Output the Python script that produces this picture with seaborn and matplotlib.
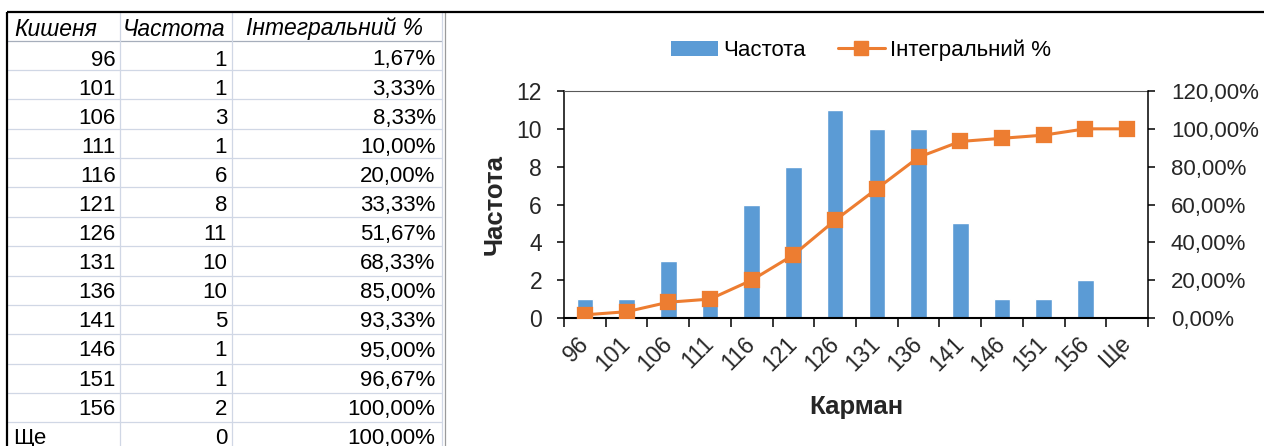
import numpy as np
import matplotlib
matplotlib.use("Agg")
import matplotlib.pyplot as plt
from matplotlib.ticker import FuncFormatter
from matplotlib.lines import Line2D
from matplotlib.patches import Patch
import seaborn as sns

# Frequency table: bins, counts and cumulative percentage
bins = ["96", "101", "106", "111", "116", "121", "126", "131", "136",
        "141", "146", "151", "156", "Ще"]
freq = [1, 1, 3, 1, 6, 8, 11, 10, 10, 5, 1, 1, 2, 0]
cum_pct = [1.67, 3.33, 8.33, 10.00, 20.00, 33.33, 51.67, 68.33, 85.00,
           93.33, 95.00, 96.67, 100.00, 100.00]
headers = ["Кишеня", "Частота", "Інтегральний %"]
freq_ticks = [0, 2, 4, 6, 8, 10, 12]
pct_ticks = [0, 20, 40, 60, 80, 100, 120]

BLUE = "#5B9BD5"
ORANGE = "#ED7D31"
GRID = "#D0D7E5"

sns.set_style("white")
plt.rcParams["font.family"] = ["Liberation Sans", "DejaVu Sans"]
plt.rcParams["text.color"] = "black"


def pct(v):
    return f"{v:.2f}%".replace(".", ",")


W, H = 1264, 446
fig = plt.figure(figsize=(W / 100, H / 100), dpi=100)

# ---- worksheet layer (pixel coordinates, y downwards) ----
sheet = fig.add_axes([0, 0, 1, 1])
sheet.set_xlim(0, W)
sheet.set_ylim(H, 0)
sheet.axis("off")

top, head_bottom, row_h = 12, 40.7, 29.35
col_lines = [120, 232, 441.7]
n_rows = len(bins)

for k in range(n_rows):
    y = head_bottom + row_h * k
    sheet.plot([8, 441.7], [y, y], color="#A6AEBB" if k == 0 else GRID, lw=0.9)
for x in col_lines:
    sheet.plot([x, x], [top, H], color=GRID, lw=0.9)
sheet.plot([445, 445], [top, H], color="#9A9A9A", lw=0.9)
sheet.plot([7, W], [top, top], color="black", lw=1.6, solid_capstyle="butt")
sheet.plot([7, 7], [top, H], color="black", lw=1.6, solid_capstyle="butt")

fs_cell = 16
for x, h in zip([14, 122.5, 246], headers):
    sheet.text(x, 35.5, h, fontsize=16.5, style="italic", ha="left", va="baseline")

for k, (b, f, c) in enumerate(zip(bins, freq, cum_pct)):
    yb = 65.5 + 29.1 * k
    if b.isdigit():
        sheet.text(115.5, yb, b, fontsize=fs_cell, ha="right", va="baseline")
    else:
        sheet.text(13, yb, b, fontsize=fs_cell, ha="left", va="baseline")
    sheet.text(227, yb, str(f), fontsize=fs_cell, ha="right", va="baseline")
    sheet.text(435.5, yb, pct(c), fontsize=fs_cell, ha="right", va="baseline")

# ---- Pareto-style chart ----
x0, x1, y_top, y_bot = 564, 1148, 91, 318
ax = fig.add_axes([x0 / W, (H - y_bot) / H, (x1 - x0) / W, (y_bot - y_top) / H])
ax.set_facecolor("none")

sns.barplot(x=bins, y=freq, order=bins, ax=ax, color=BLUE, saturation=1,
            width=0.4, errorbar=None)
ax.set_xlim(-0.5, n_rows - 0.5)
ax.set_ylim(0, 12)
ax.set_yticks(freq_ticks)

ax2 = ax.twinx()
sns.pointplot(x=bins, y=cum_pct, order=bins, ax=ax2, color=ORANGE,
              markers="s", linestyles="-", errorbar=None,
              markersize=9.4, linewidth=2.2)
ax2.set_ylim(0, 120)
ax2.set_yticks(pct_ticks)
ax2.yaxis.set_major_formatter(FuncFormatter(lambda v, _: pct(v)))
ax2.set_ylabel("")
ax.set_xlim(-0.5, n_rows - 0.5)

# spines
for s in ["left", "bottom"]:
    ax.spines[s].set_color("black")
ax.spines["left"].set_linewidth(1.1)
ax.spines["bottom"].set_linewidth(1.5)
ax.spines["top"].set_color("#595959")
ax.spines["top"].set_linewidth(0.8)
ax.spines["right"].set_visible(False)
for s in ["left", "bottom", "top"]:
    ax2.spines[s].set_visible(False)
ax2.spines["right"].set_color("black")
ax2.spines["right"].set_linewidth(1.1)

# ticks
ax.set_xticks(np.arange(-0.5, n_rows, 1), minor=True)
ax.tick_params(axis="x", which="major", length=0, pad=16, labelsize=16.5)
ax.tick_params(axis="x", which="minor", length=6.5, width=1.1, color="black",
               direction="out", bottom=True)
ax.tick_params(axis="y", length=5, width=1.1, color="black", direction="out",
               pad=10.8, labelsize=16.5, left=True)
ax2.tick_params(axis="y", length=5, width=1.1, color="black", direction="out",
                pad=11.5, labelsize=16, right=True)
for lbl in ax.get_xticklabels():
    lbl.set_rotation(45)
    lbl.set_ha("right")
    lbl.set_va("center")
    lbl.set_rotation_mode("anchor")

ax.set_ylabel("Частота", fontsize=18.5, fontweight="bold")
ax.yaxis.set_label_coords(-0.0976, 0.5)
ax.set_xlabel("Карман", fontsize=18.5, fontweight="bold")
ax.xaxis.set_label_coords(0.5, -0.339)

handles = [Patch(facecolor=BLUE, edgecolor="none"),
           Line2D([], [], color=ORANGE, lw=2.2, marker="s", markersize=9.4)]
fig.legend(handles, ["Частота", "Інтегральний %"], loc="center",
           bbox_to_anchor=(861 / W, (H - 50.5) / H), ncol=2, frameon=False,
           fontsize=16, handlelength=2.1, handletextpad=0.25,
           columnspacing=1.45, handleheight=0.7, borderpad=0)

fig.savefig("out.png", dpi=100)
